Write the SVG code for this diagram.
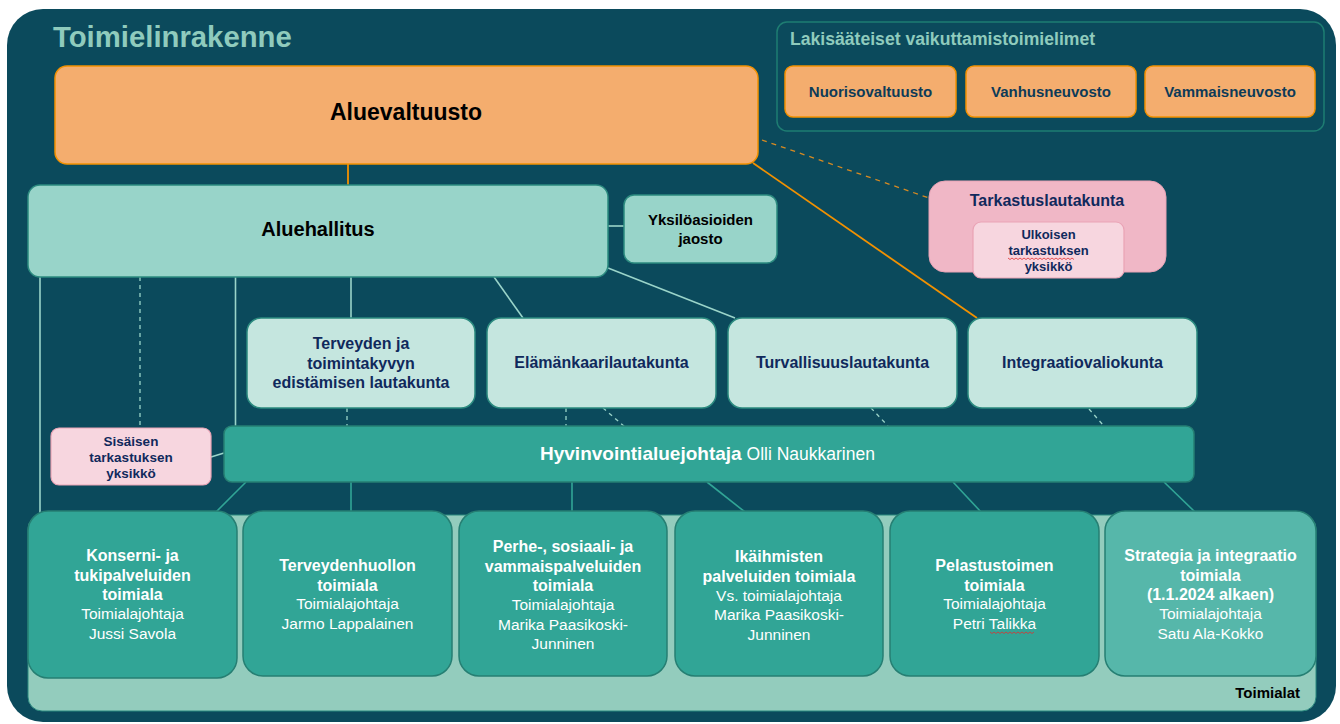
<svg xmlns="http://www.w3.org/2000/svg" width="1340" height="724" viewBox="0 0 1340 724">
<style>
text{font-family:"Liberation Sans",Arial,sans-serif;text-anchor:middle}
.b{font-weight:bold}
.navy{fill:#10295c}
.orange{fill:#f4ad6e;stroke:#f29100;stroke-width:1.5}
.mint{fill:#98d4c9;stroke:#2b8a7f;stroke-width:1.5}
.pale{fill:#c5e6df;stroke:#2b8a7f;stroke-width:1.5}
.teal{fill:#31a596;stroke:#267f73;stroke-width:1.5}
.pinkl{fill:#f7d6df;stroke:#e9a3b5;stroke-width:1.2}
.lt{stroke:#9ad4c9;stroke-width:1.6;fill:none}
.ltd{stroke:#9ad4c9;stroke-width:1.3;fill:none;stroke-dasharray:4 4}
.tl{stroke:#31a596;stroke-width:1.6;fill:none}
.or{stroke:#f29100;stroke-width:1.8;fill:none}
.ord{stroke:#d68a22;stroke-width:1.3;fill:none;stroke-dasharray:5 5}
.sq{stroke:#e03030;stroke-width:0.8;fill:none}
.tb{font-size:16px;font-weight:bold;fill:#ffffff}
.tr{font-size:15.5px;fill:#ffffff}
</style>
<rect x="7" y="9" width="1329" height="713" rx="36" fill="#0b4a5c"/>
<text x="53" y="47" class="b" style="font-size:29.3px;fill:#8fcbbd;text-anchor:start">Toimielinrakenne</text>

<g id="toimialat-bg">
<rect x="28" y="515" width="1288" height="196" rx="14" fill="#93ccbd" stroke="#2b8a7f" stroke-width="1"/>
<text x="1300" y="698" class="b" style="font-size:15px;fill:#000;text-anchor:end">Toimialat</text>
</g>

<g id="connectors">
<line class="or" x1="348" y1="164" x2="348" y2="185"/>
<line class="or" x1="753" y1="163" x2="977" y2="318"/>
<line class="ord" x1="762" y1="140" x2="929" y2="198"/>
<line class="lt" x1="40" y1="277" x2="40" y2="513"/>
<line class="ltd" x1="140" y1="277" x2="140" y2="428"/>
<line class="lt" x1="235.5" y1="277" x2="235.5" y2="426"/>
<line class="lt" x1="351" y1="277" x2="351" y2="318"/>
<line class="lt" x1="494" y1="277" x2="523" y2="318"/>
<line class="lt" x1="608" y1="268" x2="735" y2="318"/>
<line class="lt" x1="608" y1="226" x2="624" y2="226"/>
<line class="lt" x1="211" y1="457" x2="224" y2="453"/>
<line class="ltd" x1="347" y1="408" x2="347" y2="426"/>
<line class="ltd" x1="566" y1="408" x2="566" y2="426"/>
<line class="ltd" x1="603" y1="408" x2="625" y2="427"/>
<line class="ltd" x1="871" y1="408" x2="888" y2="426"/>
<line class="ltd" x1="1089" y1="409" x2="1103" y2="425"/>
<line class="tl" x1="246" y1="482" x2="216" y2="512"/>
<line class="tl" x1="351" y1="482" x2="351" y2="512"/>
<line class="tl" x1="572" y1="482" x2="572" y2="512"/>
<line class="tl" x1="707" y1="482" x2="745" y2="512"/>
<line class="tl" x1="953" y1="482" x2="981" y2="512"/>
<line class="tl" x1="1164" y1="482" x2="1195" y2="512"/>
</g>

<g id="lakisaateiset">
<rect x="777" y="22" width="547" height="109" rx="10" fill="none" stroke="#1e7d72" stroke-width="1.5"/>
<text x="790" y="45" class="b" style="font-size:17.6px;fill:#8fcbbd;text-anchor:start">Lakisääteiset vaikuttamistoimielimet</text>
</g>
<g id="nuorisovaltuusto">
<rect class="orange" x="785" y="66" width="171" height="51" rx="8"/>
<text x="870.5" y="97" class="b" style="font-size:15px;fill:#0d3b58">Nuorisovaltuusto</text>
</g>
<g id="vanhusneuvosto">
<rect class="orange" x="966" y="66" width="170" height="51" rx="8"/>
<text x="1051" y="97" class="b" style="font-size:15px;fill:#0d3b58">Vanhusneuvosto</text>
</g>
<g id="vammaisneuvosto">
<rect class="orange" x="1145" y="66" width="170" height="51" rx="8"/>
<text x="1230" y="97" class="b" style="font-size:15px;fill:#0d3b58">Vammaisneuvosto</text>
</g>

<g id="aluevaltuusto">
<rect class="orange" x="55" y="66" width="703" height="98" rx="12"/>
<text x="406" y="120" class="b" style="font-size:23px;fill:#000">Aluevaltuusto</text>
</g>

<g id="aluehallitus">
<rect class="mint" x="28" y="185" width="580" height="92" rx="12"/>
<text x="318" y="236" class="b" style="font-size:20px;fill:#000">Aluehallitus</text>
</g>

<g id="yksiloasioiden">
<rect class="mint" x="624" y="195" width="153" height="68" rx="10"/>
<text x="700.5" y="225" class="b" style="font-size:15px;fill:#000">Yksilöasioiden</text>
<text x="700.5" y="244" class="b" style="font-size:15px;fill:#000">jaosto</text>
</g>

<g id="tarkastuslautakunta">
<rect x="929" y="181" width="237" height="91" rx="16" fill="#f0b7c6" stroke="#e9a3b5" stroke-width="1"/>
<text x="1047" y="206" class="b navy" style="font-size:16px">Tarkastuslautakunta</text>
<rect class="pinkl" x="973" y="222" width="151" height="56" rx="8"/>
<text x="1048.5" y="239" class="b navy" style="font-size:13px">Ulkoisen</text>
<text x="1048.5" y="255" class="b navy" style="font-size:13px">tarkastuksen</text>
<text x="1048.5" y="271" class="b navy" style="font-size:13px">yksikkö</text>
<path class="sq" d="M1008 258 l2 1.5 l2 -1.5 l2 1.5 l2 -1.5 l2 1.5 l2 -1.5 l2 1.5 l2 -1.5 l2 1.5 l2 -1.5 l2 1.5 l2 -1.5 l2 1.5 l2 -1.5 l2 1.5 l2 -1.5 l2 1.5 l2 -1.5 l2 1.5 l2 -1.5 l2 1.5 l2 -1.5 l2 1.5 l2 -1.5 l2 1.5 l2 -1.5 l2 1.5 l2 -1.5 l2 1.5 l2 -1.5 l2 1.5 l2 -1.5 l2 1.5"/>
</g>

<g id="terveyden-lautakunta">
<rect class="pale" x="247" y="318" width="228" height="90" rx="14"/>
<text x="361" y="349" class="b navy" style="font-size:16px">Terveyden ja</text>
<text x="361" y="368.5" class="b navy" style="font-size:16px">toimintakyvyn</text>
<text x="361" y="388" class="b navy" style="font-size:16px">edistämisen lautakunta</text>
</g>
<g id="elamankaarilautakunta">
<rect class="pale" x="487" y="318" width="229" height="90" rx="14"/>
<text x="601.5" y="368" class="b navy" style="font-size:16px">Elämänkaarilautakunta</text>
</g>
<g id="turvallisuuslautakunta">
<rect class="pale" x="728" y="318" width="229" height="90" rx="14"/>
<text x="842.5" y="368" class="b navy" style="font-size:16px">Turvallisuuslautakunta</text>
</g>
<g id="integraatiovaliokunta">
<rect class="pale" x="968" y="318" width="229" height="90" rx="14"/>
<text x="1082.5" y="368" class="b navy" style="font-size:16px">Integraatiovaliokunta</text>
</g>

<g id="sisainen-tarkastus">
<rect class="pinkl" x="51" y="428" width="160" height="57" rx="8"/>
<text x="131" y="446" class="b navy" style="font-size:13.5px">Sisäisen</text>
<text x="131" y="462" class="b navy" style="font-size:13.5px">tarkastuksen</text>
<text x="131" y="478" class="b navy" style="font-size:13.5px">yksikkö</text>
</g>

<g id="hyvinvointialuejohtaja">
<rect class="teal" x="224" y="426" width="970" height="56" rx="8"/>
<text x="540" y="460" style="text-anchor:start;fill:#fff"><tspan class="b" style="font-size:19px">Hyvinvointialuejohtaja</tspan><tspan style="font-size:17.5px"> Olli Naukkarinen</tspan></text>
</g>

<g id="konserni">
<rect class="teal" x="28" y="511" width="209" height="167" rx="20"/>
<text x="132.5" y="561" class="tb">Konserni- ja</text>
<text x="132.5" y="580.5" class="tb">tukipalveluiden</text>
<text x="132.5" y="600" class="tb">toimiala</text>
<text x="132.5" y="619" class="tr">Toimialajohtaja</text>
<text x="132.5" y="638.5" class="tr">Jussi Savola</text>
</g>
<g id="terveydenhuolto">
<rect class="teal" x="243" y="511" width="209" height="165" rx="20"/>
<text x="347.5" y="571" class="tb">Terveydenhuollon</text>
<text x="347.5" y="590.5" class="tb">toimiala</text>
<text x="347.5" y="609" class="tr">Toimialajohtaja</text>
<text x="347.5" y="628.5" class="tr">Jarmo Lappalainen</text>
</g>
<g id="perhe">
<rect class="teal" x="459" y="511" width="208" height="165" rx="20"/>
<text x="563" y="552" class="tb">Perhe-, sosiaali- ja</text>
<text x="563" y="571.5" class="tb">vammaispalveluiden</text>
<text x="563" y="591" class="tb">toimiala</text>
<text x="563" y="610" class="tr">Toimialajohtaja</text>
<text x="563" y="629.5" class="tr">Marika Paasikoski-</text>
<text x="563" y="649" class="tr">Junninen</text>
</g>
<g id="ikaihmiset">
<rect class="teal" x="675" y="511" width="208" height="165" rx="20"/>
<text x="779" y="562" class="tb">Ikäihmisten</text>
<text x="779" y="581.5" class="tb">palveluiden toimiala</text>
<text x="779" y="601" class="tr">Vs. toimialajohtaja</text>
<text x="779" y="620" class="tr">Marika Paasikoski-</text>
<text x="779" y="639.5" class="tr">Junninen</text>
</g>
<g id="pelastustoimi">
<rect class="teal" x="890" y="511" width="209" height="165" rx="20"/>
<text x="994.5" y="571" class="tb">Pelastustoimen</text>
<text x="994.5" y="590.5" class="tb">toimiala</text>
<text x="994.5" y="609" class="tr">Toimialajohtaja</text>
<text x="994.5" y="628.5" class="tr">Petri Talikka</text>
<path class="sq" d="M990 632 l2 1.5 l2 -1.5 l2 1.5 l2 -1.5 l2 1.5 l2 -1.5 l2 1.5 l2 -1.5 l2 1.5 l2 -1.5 l2 1.5 l2 -1.5 l2 1.5 l2 -1.5 l2 1.5 l2 -1.5 l2 1.5 l2 -1.5 l2 1.5 l2 -1.5 l2 1.5 l2 -1.5"/>
</g>
<g id="strategia">
<rect x="1105" y="511" width="211" height="165" rx="20" fill="#56b7aa" stroke="#267f73" stroke-width="1.5"/>
<text x="1210.5" y="561" class="tb">Strategia ja integraatio</text>
<text x="1210.5" y="580.5" class="tb">toimiala</text>
<text x="1210.5" y="600" class="tb">(1.1.2024 alkaen)</text>
<text x="1210.5" y="619" class="tr">Toimialajohtaja</text>
<text x="1210.5" y="638.5" class="tr">Satu Ala-Kokko</text>
</g>
</svg>
